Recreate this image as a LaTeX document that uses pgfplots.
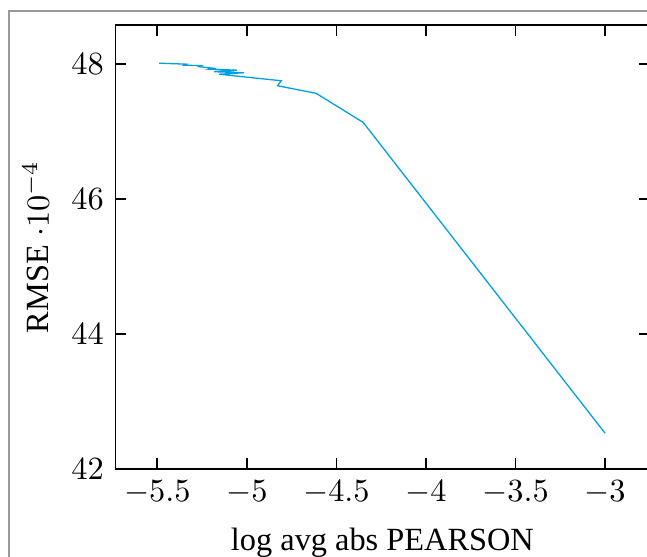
\documentclass[border=0pt]{standalone}
\usepackage[no-math]{fontspec}
\setmainfont{Liberation Serif}
\usepackage{pgfplots}
\pgfplotsset{compat=1.18}
\definecolor{linecol}{RGB}{0,160,227}
\begin{document}
\begin{tikzpicture}
\begin{axis}[
  scale only axis,
  width=165.2pt, height=137.2pt,
  xmin=-5.735, xmax=-2.751,
  ymin=42, ymax=48.58,
  xtick={-5.5,-5,-4.5,-4,-3.5,-3},
  ytick={42,44,46,48},
  major tick length=3.4pt,
  tick style={line width=0.5pt, black},
  xlabel={log avg abs PEARSON},
  xlabel style={yshift=-0.6pt},
  ylabel={RMSE $\cdot 10^{-4}$},
]
\addplot[linecol, line width=0.4pt, mark=none] coordinates {
(-5.489,48.015)
(-5.338,48.000)
(-5.349,47.985)
(-5.254,47.978)
(-5.266,47.963)
(-5.188,47.940)
(-5.210,47.926)
(-5.054,47.911)
(-5.182,47.888)
(-5.015,47.873)
(-5.154,47.851)
(-4.808,47.754)
(-4.828,47.680)
(-4.613,47.568)
(-4.350,47.136)
(-3.000,42.530)
};
\coordinate (SW) at (rel axis cs:0,0);
\coordinate (NE) at (rel axis cs:1,1);
\end{axis}
\pgfresetboundingbox
\path[use as bounding box] ([xshift=-35.6pt,yshift=-27.2pt]SW) rectangle ([xshift=-0.8pt,yshift=7.74pt]NE);
\draw[black!40, line width=0.6pt] ([xshift=-32.8pt,yshift=-40pt]SW) -- ([xshift=-32.8pt,yshift=4.34pt]NE -| SW) -- ([yshift=4.34pt]NE);
\end{tikzpicture}
\end{document}
